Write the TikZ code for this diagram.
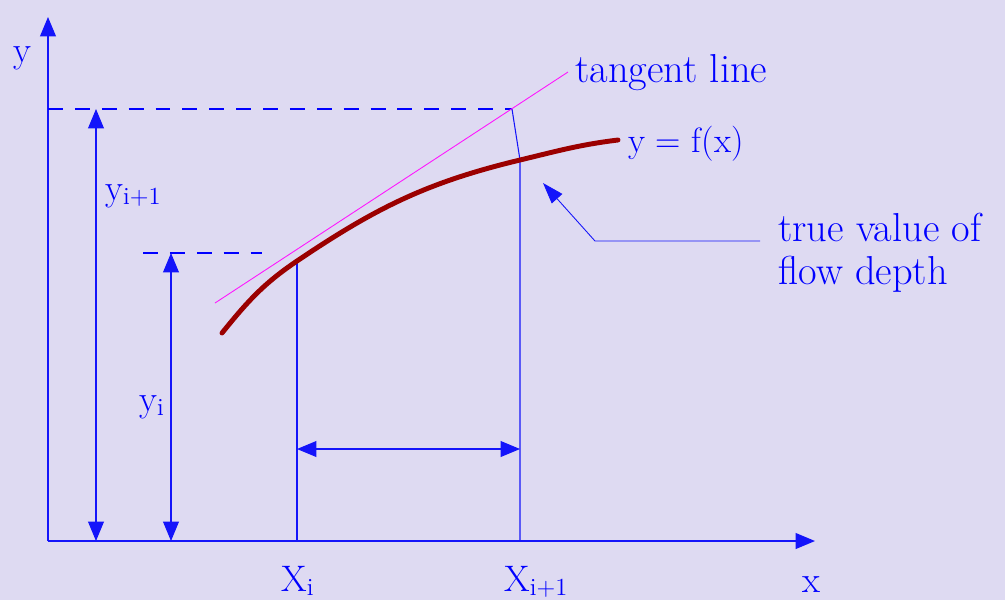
\documentclass[tikz,border=0pt]{standalone}
\usepackage{xcolor}
\usepackage{tikz}
\usetikzlibrary{arrows.meta, positioning, calc}
\definecolor{slidebg}{RGB}{222, 218, 242}
\definecolor{axisblue}{RGB}{20, 20, 250}
\definecolor{curvered}{RGB}{155, 0, 0}
\definecolor{tangentpink}{RGB}{255, 20, 255}
\newcommand{\lowidx}[1]{\raisebox{-0.12em}{\fontsize{14}{14}\selectfont #1}}
\tikzstyle{txt} = [text=blue, inner sep=0pt, font=\fontsize{23}{24.5}\selectfont]
\tikzstyle{axislabel} = [text=blue, inner sep=0pt, font=\fontsize{21}{24}\selectfont]
\tikzstyle{axis} = [draw=axisblue, line width=0.8pt, -{Triangle[length=11pt, width=9pt]}]
\tikzstyle{dim} = [draw=axisblue, line width=0.6pt, {Triangle[length=11pt, width=9pt]}-{Triangle[length=11pt, width=9pt]}]
\tikzstyle{guide} = [draw=axisblue, line width=0.6pt]
\tikzstyle{dashedguide} = [draw=blue, line width=1.2pt, dash pattern=on 8.5pt off 6.8pt]
\tikzstyle{pointer} = [draw=axisblue, line width=0.5pt, -{Triangle[length=12pt, width=8pt]}]

\begin{document}
\begin{tikzpicture}[x=0.02cm, y=-0.02cm]
    % Background
    \useasboundingbox (0,0) rectangle (1005,600);
    \fill[slidebg] (0,0) rectangle (1005,600);

    % Points
    \coordinate (origin) at (48,541);
    \coordinate (ytip) at (48,17);
    \coordinate (xtip) at (815,541);
    \coordinate (yjleft) at (48,109);
    \coordinate (tanj) at (512,109);
    \coordinate (yileft) at (143,253);
    \coordinate (yiright) at (262,253);
    \coordinate (yjtop) at (96,109);
    \coordinate (yjfoot) at (96,541);
    \coordinate (yitop) at (171,253);
    \coordinate (yifoot) at (171,541);
    \coordinate (xifoot) at (297,541);
    \coordinate (xjfoot) at (520,541);
    \coordinate (xidim) at (297,449);
    \coordinate (xjdim) at (520,449);
    \coordinate (cstart) at (222,333);
    \coordinate (cxi) at (297,261);
    \coordinate (cxj) at (520,160);
    \coordinate (cend) at (618,140);
    \coordinate (tanstart) at (215,303);
    \coordinate (tanend) at (568,72);
    \coordinate (bend) at (595,241);
    \coordinate (tip) at (543,183);
    \coordinate (lineend) at (760,241);

    % Nodes
    \node (ylabel) [axislabel, anchor=base west] at (13,62) {y};
    \node (xlabel) [axislabel, anchor=base west] at (802,592) {x};
    \node (yjlabel) [axislabel, anchor=base west] at (105,200) {y\lowidx{i+1}};
    \node (yilabel) [axislabel, anchor=base west] at (139,411) {y\lowidx{i}};
    \node (xilabel) [axislabel, anchor=base west] at (281,591) {X\lowidx{i}};
    \node (xjlabel) [axislabel, anchor=base west] at (504,591) {X\lowidx{i+1}};
    \node (tanlabel) [txt, anchor=base west] at (575,82) {tangent line};
    \node (curvelabel) [txt, anchor=base west, font=\fontsize{20}{24}\selectfont] at (628,152) {y = f(x)};
    \node (truelabel) [txt, anchor=north west, align=left] at (778,213) {true value of\\flow depth};

    % Paths
    \draw [axis] (origin) -- (ytip);
    \draw [axis] (origin) -- (xtip);
    \draw [dashedguide] (yjleft) -- (tanj);
    \draw [dashedguide] (yileft) -- (yiright);
    \draw [dim] (yjfoot) -- (yjtop);
    \draw [dim] (yifoot) -- (yitop);
    \draw [guide] (xifoot) -- (cxi);
    \draw [guide] (xjfoot) -- (cxj) -- (tanj);
    \draw [dim] (xidim) -- (xjdim);
    \draw [tangentpink, line width=0.5pt] (tanstart) -- (tanend);
    \draw [curvered, line width=2.8pt, line cap=round] (cstart) to[out=51, in=214] (cxi) to[out=34, in=193.5] (cxj) to[out=13.5, in=187] (cend);
    \draw [pointer] (lineend) -- (bend) -- (tip);
\end{tikzpicture}
\end{document}
